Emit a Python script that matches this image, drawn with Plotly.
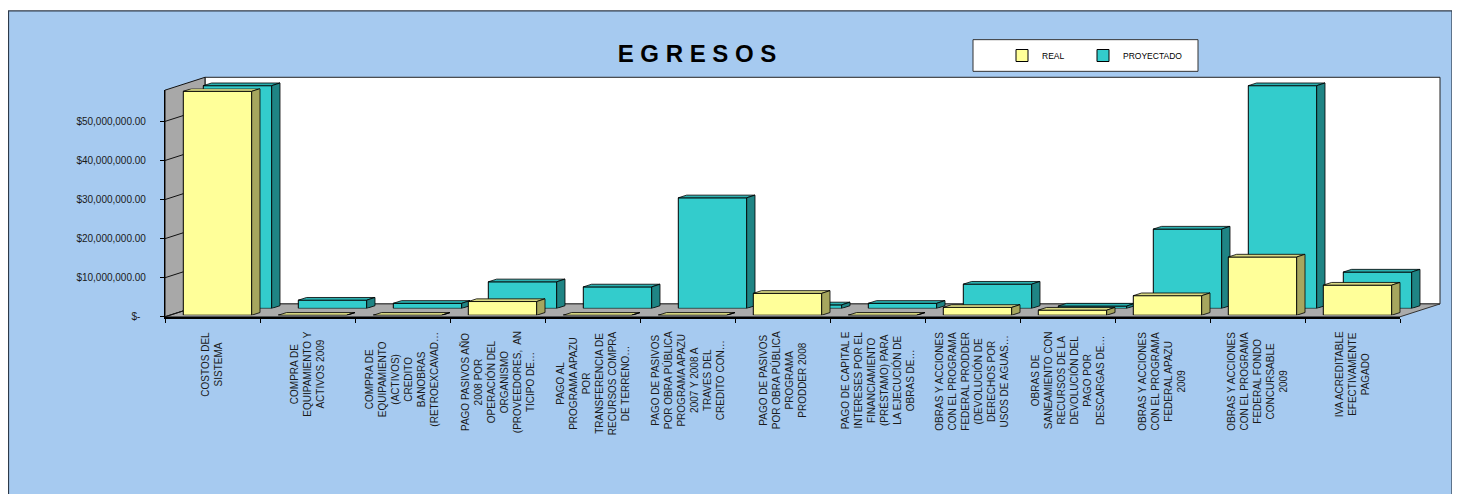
import plotly.graph_objects as go

# ---------------- data ----------------
categories = [
    "COSTOS DEL<br>SISTEMA",
    "COMPRA DE<br>EQUIPAMIENTO Y<br>ACTIVOS 2009",
    "COMPRA DE<br>EQUIPAMIENTO<br>(ACTIVOS)<br>CREDITO<br>BANOBRAS<br>(RETROEXCAVAD…",
    "PAGO PASIVOS AÑO<br>2008 POR<br>OPERACIÓN DEL<br>ORGANISMO<br>(PROVEEDORES,  AN<br>TICIPO DE…",
    "PAGO AL<br>PROGRAMA APAZU<br>POR<br>TRANSFERENCIA DE<br>RECURSOS COMPRA<br>DE TERRENO…",
    "PAGO DE PASIVOS<br>POR OBRA PÚBLICA<br>PROGRAMA APAZU<br>2007 Y 2008 A<br>TRAVES DEL<br>CREDITO CON…",
    "PAGO DE PASIVOS<br>POR OBRA PÚBLICA<br>PROGRAMA<br>PRODDER 2008",
    "PAGO DE CAPITAL E<br>INTERESES POR EL<br>FINANCIAMIENTO<br>(PRÉSTAMO) PARA<br>LA EJECUCIÓN DE<br>OBRAS DE…",
    "OBRAS Y ACCIONES<br>CON EL PROGRAMA<br>FEDERAL PRODDER<br>(DEVOLUCIÓN DE<br>DERECHOS POR<br>USOS DE AGUAS…",
    "OBRAS DE<br>SANEAMIENTO CON<br>RECURSOS DE LA<br>DEVOLUCIÓN DEL<br>PAGO POR<br>DESCARGAS DE…",
    "OBRAS Y ACCIONES<br>CON EL PROGRAMA<br>FEDERAL APAZU<br>2009",
    "OBRAS Y ACCIONES<br>CON EL PROGRAMA<br>FEDERAL FONDO<br>CONCURSABLE<br>2009",
    "IVA ACREDITABLE<br>EFECTIVAMENTE<br>PAGADO",
]
real = [57.3e6, 0, 0, 3.5e6, 0, 0, 5.6e6, 0, 2.0e6, 1.3e6, 5.0e6, 14.9e6, 7.7e6]
proyectado = [57.0e6, 2.1e6, 1.3e6, 6.8e6, 5.5e6, 28.3e6, 0.9e6, 1.3e6, 6.2e6, 0.6e6, 20.3e6, 57.0e6, 9.3e6]
ytick_vals = [0, 10e6, 20e6, 30e6, 40e6, 50e6]
ytick_text = ["$-\u00a0\u00a0", "$10,000,000.00", "$20,000,000.00", "$30,000,000.00",
              "$40,000,000.00", "$50,000,000.00"]
series_names = ["REAL", "PROYECTADO"]
title_text = "E G R E S O S"

# ---------------- geometry / style ----------------
PAGE_OFF = 8                  # default body margin of the html page
W, H = 1452, 486              # figure size (fills the window after the margin)
FX0, FX1 = 165, 1400          # front plane x extent (window px)
FY0 = 320                     # front plane zero (window px)
YMAX = 58e6
PXM = 3.948                   # px per 1e6
FYT = FY0 - YMAX / 1e6 * PXM  # top of front plane
DEPTH = (40, -13)             # back wall offset (px)
CAT_W = (FX1 - FX0) / len(categories)
BAR_W = 0.72
SIDE_DX = 8.3 / CAT_W
SIDE_DY = 2.7 / PXM * 1e6

def fx(px):
    return (px - PAGE_OFF) / W

def fy(py):
    return 1 - (py - PAGE_OFF) / H

def xdom(sh):
    return [fx(FX0 + sh), fx(FX1 + sh)]

def ydom(sh):
    return [fy(FY0 + sh), fy(FYT + sh)]

SH_BACK = DEPTH
SH_TEAL = (25, -8.5)
SH_YEL = (5, -1.6)

YEL = dict(front="#FFFF99", top="#D9D983", side="#A6A65E")
TEAL = dict(front="#33CCCC", top="#2BB0B0", side="#1F8484")

def faces(vals):
    tx, ty, sx, sy = [], [], [], []
    for i, v in enumerate(vals):
        x0 = i - BAR_W / 2
        x1 = i + BAR_W / 2
        tx += [x0, x1, x1 + SIDE_DX, x0 + SIDE_DX, x0, None]
        ty += [v, v, v + SIDE_DY, v + SIDE_DY, v, None]
        sx += [x1, x1 + SIDE_DX, x1 + SIDE_DX, x1, x1, None]
        sy += [0, SIDE_DY, v + SIDE_DY, v, 0, None]
    return tx, ty, sx, sy

fig = go.Figure()
idx = list(range(len(categories)))
hover = [c.replace("<br>", " ") for c in categories]

def add_series(vals, name, col, xa, ya, legend):
    fig.add_trace(go.Bar(
        x=idx, y=vals, width=BAR_W, name=name, xaxis=xa, yaxis=ya,
        marker=dict(color=col["front"], line=dict(color="#000000", width=1)),
        hovertext=hover, legend=legend,
    ))
    tx, ty, sx, sy = faces(vals)
    for xs, ys, c in ((tx, ty, col["top"]), (sx, sy, col["side"])):
        fig.add_trace(go.Scatter(
            x=xs, y=ys, xaxis=xa, yaxis=ya, mode="lines", fill="toself",
            fillcolor=c, line=dict(color="#000000", width=0.8),
            showlegend=False, hoverinfo="skip",
        ))

# back series first (drawn behind), front series last
add_series(proyectado, series_names[1], TEAL, "x2", "y2", "legend2")
add_series(real, series_names[0], YEL, "x4", "y4", "legend")

hidden = dict(showgrid=False, zeroline=False, showline=False, showticklabels=False,
              ticks="", fixedrange=True)
xr = [-0.5, len(categories) - 0.5]
yr = [0, YMAX]

leg_common = dict(orientation="h", xanchor="left", yanchor="middle",
                  bgcolor="rgba(0,0,0,0)", borderwidth=0,
                  font=dict(size=8.5, color="#000000"))

fig.update_layout(
    width=W, height=H, margin=dict(l=0, r=0, t=0, b=0, pad=0),
    paper_bgcolor="#FFFFFF", plot_bgcolor="rgba(0,0,0,0)",
    font=dict(family="Liberation Sans, Arial, sans-serif", color="#1A1A1A"),
    barmode="overlay",
    # back wall (gridlines)
    xaxis=dict(domain=xdom(SH_BACK[0]), range=xr, anchor="y", **hidden),
    yaxis=dict(domain=ydom(SH_BACK[1]), range=yr, anchor="x", showgrid=True,
               gridcolor="#3A3A3A", gridwidth=1.2, tickvals=ytick_vals[1:],
               zeroline=False, showline=False, showticklabels=False, ticks=""),
    # back series
    xaxis2=dict(domain=xdom(SH_TEAL[0]), range=xr, anchor="y2", **hidden),
    yaxis2=dict(domain=ydom(SH_TEAL[1]), range=yr, anchor="x2", **hidden),
    # front axes
    xaxis3=dict(domain=xdom(0), range=xr, anchor="y3", showgrid=False, zeroline=False,
                showline=True, linecolor="#000000", linewidth=2,
                tickvals=[i - 0.5 for i in range(len(categories) + 1)],
                ticks="outside", ticklen=4, tickcolor="#000000",
                showticklabels=False),
    yaxis3=dict(domain=ydom(0), range=yr, anchor="x3", showgrid=False, zeroline=False,
                showline=True, linecolor="#000000", linewidth=1.2,
                tickvals=ytick_vals, ticktext=ytick_text,
                ticks="outside", ticklen=4, tickcolor="#000000",
                ticklabelstandoff=12,
                tickfont=dict(size=10, color="#1A1A1A")),
    # front series
    xaxis4=dict(domain=xdom(SH_YEL[0]), range=xr, anchor="y4", **hidden),
    yaxis4=dict(domain=ydom(SH_YEL[1]), range=yr, anchor="x4", **hidden),
    title=dict(text=title_text, x=fx(697), y=fy(54), xanchor="center", yanchor="middle",
               xref="paper", yref="paper",
               font=dict(size=24, color="#000000", weight="bold",
                         family="Liberation Sans, Arial, sans-serif")),
    legend=dict(x=fx(1002), y=fy(56), **leg_common),
    legend2=dict(x=fx(1083), y=fy(56), **leg_common),
    showlegend=True,
)

# ---------------- decorations (chart frame, walls, floor) ----------------
shapes = []
shapes.append(dict(type="rect", xref="paper", yref="paper", layer="below",
                   x0=fx(1452), x1=fx(1455.5), y0=fy(13), y1=fy(H + 20),
                   fillcolor="#111111", line=dict(width=0)))
shapes.append(dict(type="rect", xref="paper", yref="paper", layer="below",
                   x0=fx(8.5), x1=fx(1452), y0=fy(11), y1=fy(H + 20),
                   fillcolor="#A6CAF0", line=dict(color="#2E3A4A", width=1.2)))
# back wall
bx0, bx1 = FX0 + DEPTH[0], FX1 + DEPTH[0]
by0, by1 = FY0 + DEPTH[1], FYT + DEPTH[1]
shapes.append(dict(type="rect", xref="paper", yref="paper", layer="below",
                   x0=fx(bx0), x1=fx(bx1), y0=fy(by0), y1=fy(by1),
                   fillcolor="#FFFFFF", line=dict(color="#222222", width=1)))
# left wall
lw = "M {} {} L {} {} L {} {} L {} {} Z".format(
    fx(FX0), fy(FY0), fx(FX0), fy(FYT), fx(bx0), fy(by1), fx(bx0), fy(by0))
shapes.append(dict(type="path", xref="paper", yref="paper", layer="below", path=lw,
                   fillcolor="#A8A8A8", line=dict(color="#111111", width=1)))
# floor
fl = "M {} {} L {} {} L {} {} L {} {} Z".format(
    fx(FX0), fy(FY0), fx(FX1), fy(FY0), fx(bx1), fy(by0), fx(bx0), fy(by0))
shapes.append(dict(type="path", xref="paper", yref="paper", layer="below", path=fl,
                   fillcolor="#ABABAB", line=dict(color="#333333", width=1)))
# slanted tick lines on left wall
for v in ytick_vals:
    pyf = FY0 - v / 1e6 * PXM
    shapes.append(dict(type="line", xref="paper", yref="paper", layer="below",
                       x0=fx(FX0), y0=fy(pyf), x1=fx(bx0), y1=fy(pyf + DEPTH[1]),
                       line=dict(color="#111111", width=1)))
# legend box
shapes.append(dict(type="rect", xref="paper", yref="paper", layer="below",
                   x0=fx(973), x1=fx(1198), y0=fy(40), y1=fy(72),
                   fillcolor="#FFFFFF", line=dict(color="#333333", width=1)))
fig.update_layout(shapes=shapes)

# category labels (rotated, centred lines)
for i, c in enumerate(categories):
    fig.add_annotation(x=i, y=fy(333), xref="x3", yref="paper", text=c,
                       showarrow=False, textangle=-90, xanchor="center", yanchor="top",
                       align="center", font=dict(size=10, color="#1A1A1A"))

fig.write_html("out.html")
